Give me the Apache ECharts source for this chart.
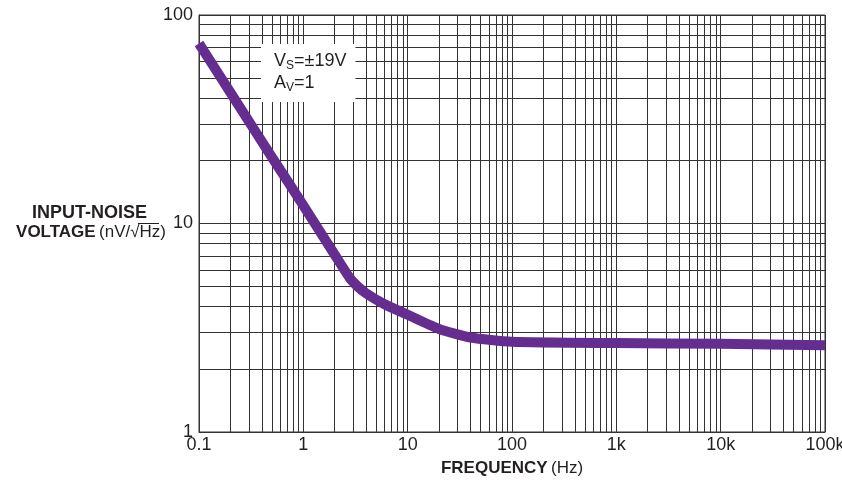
<!DOCTYPE html>
<html>
<head>
<meta charset="utf-8">
<script src="https://cdn.jsdelivr.net/npm/echarts@6/dist/echarts.min.js"></script>
<style>
html,body{margin:0;padding:0;background:#fff;}
#chart{width:842px;height:482px;}
</style>
</head>
<body>
<div id="chart"></div>
<script>
// Data
var frequencyHz = [0.1, 0.2, 0.5, 1, 2, 2.8, 3.3, 4, 6, 10, 20, 40, 100, 1000, 10000, 100000];
var noiseNv = [73, 42.5, 20.8, 12.2, 7.08, 5.46, 5.0, 4.62, 4.1, 3.65, 3.12, 2.84, 2.71, 2.67, 2.65, 2.61];
var xTickLabels = ['0.1', '1', '10', '100', '1k', '10k', '100k'];
var yTickLabels = ['1', '10', '100'];
var xDecades = [0.1, 1, 10, 100, 1000, 10000];
var yDecades = [1, 10];
var minorSteps = [2, 3, 4, 5, 6, 7, 8, 9];

var FONT = '"Liberation Sans", Arial, Helvetica, sans-serif';
var GRID_COLOR = '#333333';
var TEXT_COLOR = '#231f20';

var curve = frequencyHz.map(function (f, i) { return [f, noiseNv[i]]; });

var minorLines = [];
xDecades.forEach(function (d) {
  minorSteps.forEach(function (m) { minorLines.push({ xAxis: +(d * m).toPrecision(6) }); });
});
yDecades.forEach(function (d) {
  minorSteps.forEach(function (m) { minorLines.push({ yAxis: +(d * m).toPrecision(6) }); });
});

var chart = echarts.init(document.getElementById('chart'), null, { renderer: 'canvas' });

chart.setOption({
  animation: false,
  backgroundColor: '#ffffff',
  textStyle: { fontFamily: FONT },
  grid: {
    left: 199, right: 17, top: 15, bottom: 50,
    outerBoundsMode: 'none', containLabel: false,
    show: true, borderColor: GRID_COLOR, borderWidth: 1, backgroundColor: 'transparent'
  },
  title: {
    left: 261, top: 42,
    backgroundColor: '#ffffff',
    padding: [8, 9, 8, 13],
    text: '{n|V}{s|S}{n|=±19V}\n{n|A}{s|V}{n|=1}',
    textStyle: {
      fontFamily: FONT, fontWeight: 'normal',
      rich: {
        n: { fontSize: 18, fontWeight: 'normal', color: TEXT_COLOR, lineHeight: 22, fontFamily: FONT },
        s: { fontSize: 12, fontWeight: 'normal', color: TEXT_COLOR, lineHeight: 22, verticalAlign: 'bottom', fontFamily: FONT }
      }
    }
  },
  xAxis: {
    type: 'log', logBase: 10, min: 0.1, max: 100000, splitNumber: 6,
    axisLine: { show: true, lineStyle: { color: GRID_COLOR, width: 1 } },
    axisTick: { show: false },
    splitLine: { show: true, lineStyle: { color: GRID_COLOR, width: 1 } },
    axisLabel: {
      fontFamily: FONT, fontSize: 18, color: TEXT_COLOR, margin: 4,
      hideOverlap: false,
      formatter: function (v) {
        var i = Math.round(Math.log10(v)) + 1;
        return xTickLabels[i] || '';
      }
    },
    name: '{b|FREQUENCY} {r|(Hz)}',
    nameLocation: 'middle', nameGap: 28,
    nameTextStyle: {
      rich: {
        b: { fontFamily: FONT, fontSize: 17, fontWeight: 'bold', color: TEXT_COLOR },
        r: { fontFamily: FONT, fontSize: 17, color: TEXT_COLOR }
      }
    }
  },
  yAxis: {
    type: 'log', logBase: 10, min: 1, max: 100, splitNumber: 2,
    axisLine: { show: true, lineStyle: { color: GRID_COLOR, width: 1 } },
    axisTick: { show: false },
    splitLine: { show: true, lineStyle: { color: GRID_COLOR, width: 1 } },
    axisLabel: {
      fontFamily: FONT, fontSize: 18, color: TEXT_COLOR, margin: 6,
      formatter: function (v) {
        var i = Math.round(Math.log10(v));
        return yTickLabels[i] || '';
      }
    }
  },
  graphic: [
    {
      type: 'text', x: 89.5, y: 213, z: 10,
      style: {
        text: 'INPUT-NOISE', align: 'center', verticalAlign: 'middle',
        font: 'bold 18px ' + FONT, fill: TEXT_COLOR
      }
    },
    {
      type: 'text', x: 91, y: 232, z: 10,
      style: {
        text: '{b|VOLTAGE} {r|(nV/√Hz)}', align: 'center', verticalAlign: 'middle',
        rich: {
          b: { fontFamily: FONT, fontSize: 17, fontWeight: 'bold', fill: TEXT_COLOR, color: TEXT_COLOR },
          r: { fontFamily: FONT, fontSize: 17, fill: TEXT_COLOR, color: TEXT_COLOR }
        }
      }
    },
    {
      type: 'line', z: 10,
      shape: { x1: 138, y1: 223.5, x2: 159, y2: 223.5 },
      style: { stroke: TEXT_COLOR, lineWidth: 1 }
    }
  ],
  series: [
    {
      type: 'line', name: 'minorGrid', z: 1, silent: true,
      data: [], showSymbol: false,
      markLine: {
        silent: true, symbol: 'none', animation: false,
        label: { show: false },
        lineStyle: { color: GRID_COLOR, width: 1, type: 'solid' },
        emphasis: { disabled: true },
        data: minorLines
      }
    },
    {
      type: 'line', name: 'noise', z: 5,
      data: curve, showSymbol: false, smooth: 0.2,
      lineStyle: { color: '#662d91', width: 10, cap: 'butt', join: 'round' },
      itemStyle: { color: '#662d91' },
      clip: true
    }
  ]
});
</script>
</body>
</html>
